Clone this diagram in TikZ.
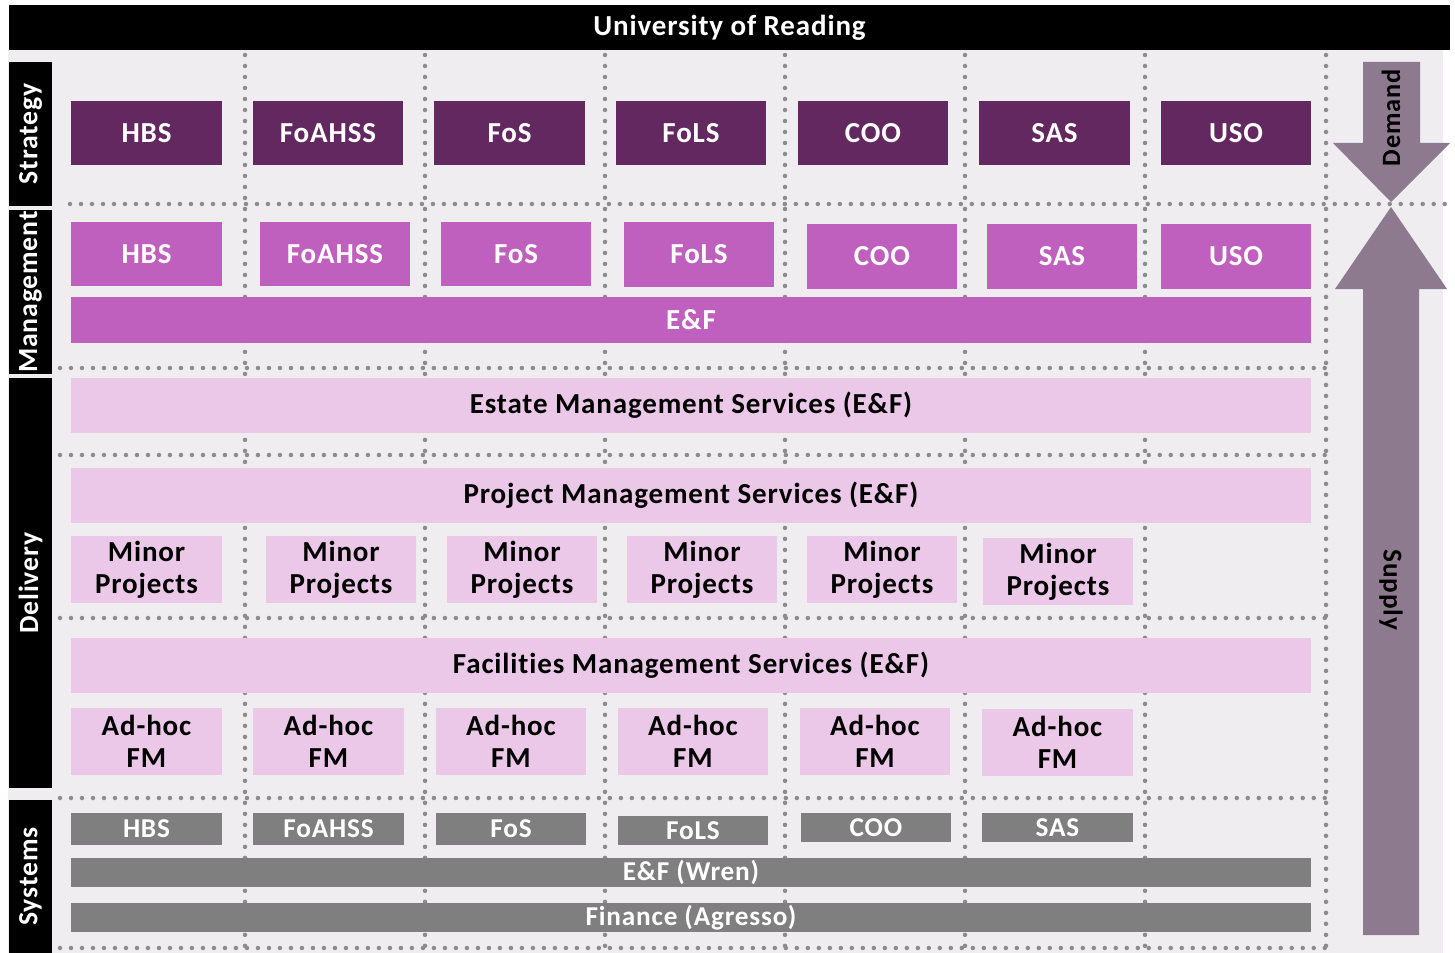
\documentclass[tikz,border=0pt]{standalone}
\usepackage{fontspec}
\setmainfont{Carlito}[LetterSpace=3, Ligatures=NoCommon]
\definecolor{bgcol}{HTML}{EFEDF0}
\definecolor{stratcol}{HTML}{63285F}
\definecolor{mgmtcol}{HTML}{C060BE}
\definecolor{delcol}{HTML}{EBC8E8}
\definecolor{syscol}{HTML}{7F7F7F}
\definecolor{arrowcol}{HTML}{8E7A8E}
\definecolor{dotcol}{HTML}{8C8C8C}
\tikzset{
  cellbox/.style={inner sep=0pt, outer sep=0pt, align=center,
    font=\fontsize{16.5}{18}\selectfont\bfseries},
  stratbox/.style={cellbox, fill=stratcol, text=white},
  mgmtbox/.style={cellbox, fill=mgmtcol, text=white},
  delbox/.style={cellbox, fill=delcol, text=black},
  sysbox/.style={cellbox, fill=syscol, text=white,
    font=\fontsize{15.5}{18}\selectfont\bfseries},
  lanebar/.style={cellbox, fill=black, text=white, rotate=90,
    font=\fontsize{15.8}{18}\selectfont\bfseries},
  dotline/.style={draw=dotcol, line width=0.09cm, line cap=round,
    dash pattern=on 0pt off 0.22cm},
}
% box from (x1,y1) to (x2,y2) in pixel units
\newcommand{\unitbox}[7]{%
  \node[#1, minimum width={(#5-#3)*0.02cm}, minimum height={(#6-#4)*0.02cm}]
    (#2) at ({(#3+#5)/2},{(#4+#6)/2}) {#7};}
\begin{document}
\begin{tikzpicture}[x=0.02cm, y=-0.02cm]
\useasboundingbox (0,0) rectangle (1455,953);
% background and title
\fill[bgcol] (8,50) rectangle (1443,953);
\unitbox{cellbox, fill=black, text=white}{title}{9}{5}{1450}{50}{University of Reading}
% dotted grid
\foreach \gx in {245,425,605,785,965,1145,1326}
  \draw[dotline] (\gx,55) -- (\gx,950);
\draw[dotline] (70,204) -- (1445,204);
\draw[dotline] (60,368) -- (1335,368);
\foreach \gy in {455,618,798,948}
  \draw[dotline] (60,\gy) -- (1326,\gy);
% lane labels
\node[lanebar, minimum width={144*0.02cm}, minimum height={43*0.02cm}] (strategy) at (30.5,134) {Strategy};
\node[lanebar, minimum width={164*0.02cm}, minimum height={43*0.02cm}] (management) at (30.5,292) {Management};
\node[lanebar, minimum width={410*0.02cm}, minimum height={43*0.02cm}] (delivery) at (30.5,583) {Delivery};
\node[lanebar, minimum width={153*0.02cm}, minimum height={43*0.02cm}] (systems) at (30.5,876.5) {Systems};
% strategy
\unitbox{stratbox}{s1}{71}{101}{222}{165}{HBS}
\unitbox{stratbox}{s2}{253}{101}{403}{165}{FoAHSS}
\unitbox{stratbox}{s3}{434}{101}{585}{165}{FoS}
\unitbox{stratbox}{s4}{616}{101}{766}{165}{FoLS}
\unitbox{stratbox}{s5}{798}{101}{948}{165}{COO}
\unitbox{stratbox}{s6}{979}{101}{1130}{165}{SAS}
\unitbox{stratbox}{s7}{1161}{101}{1311}{165}{USO}
% management
\unitbox{mgmtbox}{m1}{71}{222}{222}{286}{HBS}
\unitbox{mgmtbox}{m2}{260}{222}{410}{286}{FoAHSS}
\unitbox{mgmtbox}{m3}{441}{222}{591}{286}{FoS}
\unitbox{mgmtbox}{m4}{624}{222}{774}{287}{FoLS}
\unitbox{mgmtbox}{m5}{807}{224}{957}{289}{COO}
\unitbox{mgmtbox}{m6}{987}{224}{1137}{289}{SAS}
\unitbox{mgmtbox}{m7}{1161}{224}{1311}{289}{USO}
\unitbox{mgmtbox}{ef}{71}{297}{1311}{343}{E\&F}
% delivery
\unitbox{delbox}{estate}{71}{378}{1311}{433}{Estate Management Services (E\&F)}
\unitbox{delbox}{project}{71}{468}{1311}{523}{Project Management Services (E\&F)}
\unitbox{delbox}{p1}{71}{536}{222}{603}{Minor\\Projects}
\unitbox{delbox}{p2}{266}{536}{416}{603}{Minor\\Projects}
\unitbox{delbox}{p3}{447}{536}{597}{603}{Minor\\Projects}
\unitbox{delbox}{p4}{627}{536}{777}{603}{Minor\\Projects}
\unitbox{delbox}{p5}{807}{536}{957}{603}{Minor\\Projects}
\unitbox{delbox}{p6}{983}{538}{1133}{605}{Minor\\Projects}
\unitbox{delbox}{facilities}{71}{638}{1311}{693}{Facilities Management Services (E\&F)}
\unitbox{delbox}{f1}{71}{708}{222}{775}{Ad-hoc\\FM}
\unitbox{delbox}{f2}{253}{708}{404}{775}{Ad-hoc\\FM}
\unitbox{delbox}{f3}{436}{708}{586}{775}{Ad-hoc\\FM}
\unitbox{delbox}{f4}{618}{708}{768}{775}{Ad-hoc\\FM}
\unitbox{delbox}{f5}{800}{708}{950}{775}{Ad-hoc\\FM}
\unitbox{delbox}{f6}{982}{709}{1133}{776}{Ad-hoc\\FM}
% systems
\unitbox{sysbox}{y1}{71}{813}{222}{845}{HBS}
\unitbox{sysbox}{y2}{253}{813}{404}{845}{FoAHSS}
\unitbox{sysbox}{y3}{436}{813}{586}{845}{FoS}
\unitbox{sysbox}{y4}{618}{816}{768}{845}{FoLS}
\unitbox{sysbox}{y5}{801}{813}{951}{842}{COO}
\unitbox{sysbox}{y6}{982}{813}{1133}{842}{SAS}
\unitbox{sysbox}{wren}{71}{858}{1311}{887}{E\&F (Wren)}
\unitbox{sysbox}{agresso}{71}{903}{1311}{932}{Finance (Agresso)}
% demand / supply arrows
\fill[arrowcol] (1363,62) -- (1420,62) -- (1420,143) -- (1450,143) -- (1391,202)
  -- (1333,143) -- (1363,143) -- cycle;
\fill[arrowcol] (1391,207) -- (1447,289) -- (1419,289) -- (1419,935) -- (1363,935)
  -- (1363,289) -- (1335,289) -- cycle;
\node[cellbox, rotate=90, font=\fontsize{15}{18}\selectfont\bfseries] (demand) at (1391,118) {Demand};
\node[cellbox, rotate=-90, font=\fontsize{15.5}{18}\selectfont\bfseries] (supply) at (1391,590) {Supply};
\end{tikzpicture}
\end{document}
